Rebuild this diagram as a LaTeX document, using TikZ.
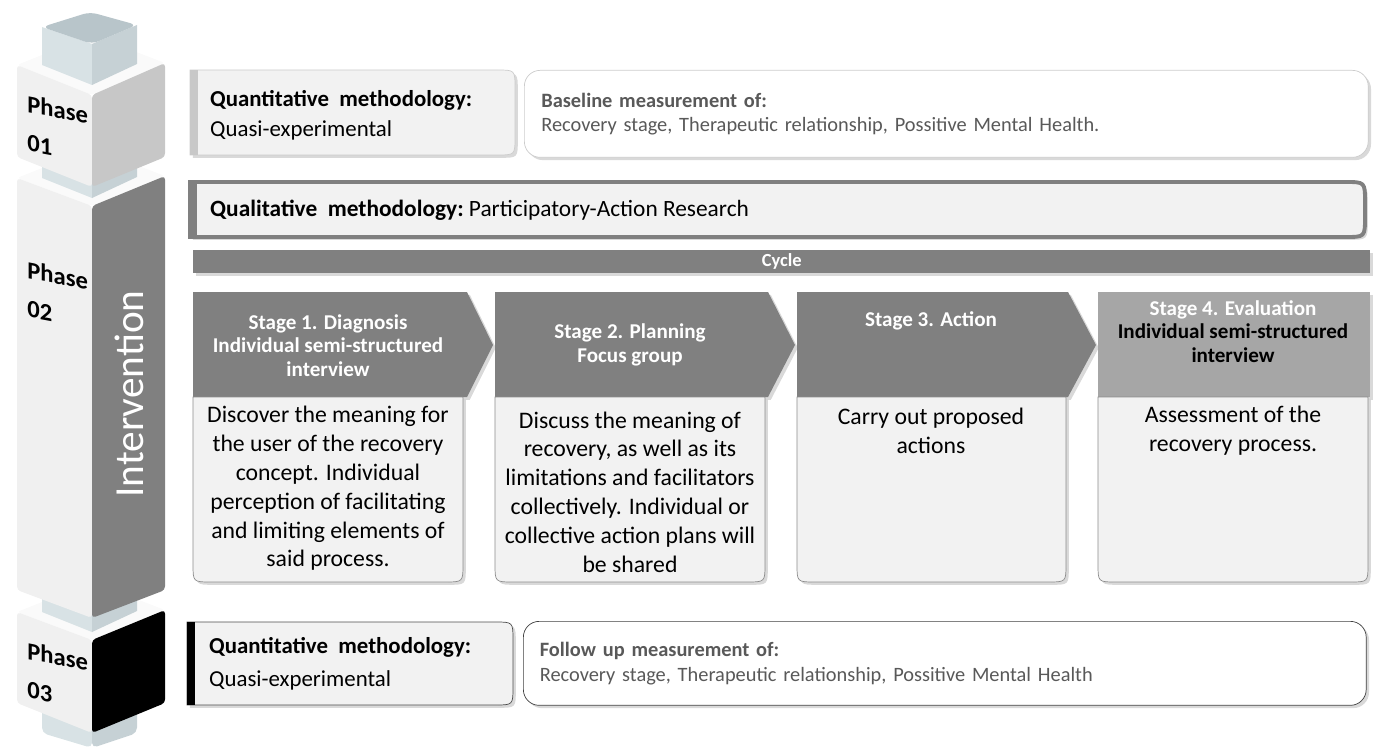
\documentclass[tikz,border=0pt]{standalone}
\usepackage{fontspec}
\setmainfont{Carlito}
\usepackage{tikz}
\usetikzlibrary{shadows,positioning,calc}
\definecolor{boxgray}{RGB}{242,242,242}
\definecolor{midgray}{RGB}{128,128,128}
\definecolor{barlight}{RGB}{200,200,200}
\definecolor{stagefour}{RGB}{166,166,166}
\definecolor{textgray}{RGB}{89,89,89}
\definecolor{shaftleft}{RGB}{216,226,229}
\definecolor{shaftright}{RGB}{198,209,213}
\definecolor{shafttop}{RGB}{184,197,202}
\definecolor{faceleft}{RGB}{240,240,240}
\definecolor{facetop}{RGB}{250,250,250}
\definecolor{faceone}{RGB}{199,199,199}

\begin{document}
\begin{tikzpicture}[x=0.02cm, y=-0.02cm, every node/.style={font=\fontsize{13}{16.4}\selectfont},
    shade box/.style={drop shadow={shadow xshift=1.6pt, shadow yshift=-1.6pt, opacity=.3}},
    stage head/.style={fill=midgray, shade box},
    stage body/.style={draw=black!45, fill=boxgray, shade box},
    head text/.style={text=white, align=center, font=\bfseries\fontsize{12}{13.4}\selectfont},
    body text/.style={align=center, font=\fontsize{13.5}{16.4}\selectfont},
    phase text/.style={anchor=west, inner sep=0pt, yslant=-0.19, align=left, font=\bfseries\fontsize{14}{22}\selectfont}]
    \useasboundingbox (0,0) rectangle (1373,750);

    % Column: top faces of the blocks
    \fill[facetop, rounded corners=2pt] (17,65) -- (92,35) -- (165,63) -- (92,95) -- cycle;
    \fill[facetop, rounded corners=2pt] (17,178) -- (92,148) -- (165,176) -- (92,206) -- cycle;
    \fill[facetop, rounded corners=2pt] (17,612) -- (92,582) -- (165,610) -- (92,640) -- cycle;

    % Column: shaft pieces
    \fill[shaftleft] (42,27) -- (92,44) -- (92,85) -- (42,65) -- cycle;
    \fill[shaftright] (92,44) -- (137,25) -- (137,64) -- (92,85) -- cycle;
    \fill[shafttop, rounded corners=4pt] (42,27) -- (90,12) -- (137,25) -- (92,44) -- cycle;
    \fill[shaftleft] (42,160) -- (92,160) -- (92,198) -- (42,178) -- cycle;
    \fill[shaftright] (92,160) -- (137,160) -- (137,177) -- (92,198) -- cycle;
    \fill[shaftleft] (42,595) -- (92,595) -- (92,632) -- (42,612) -- cycle;
    \fill[shaftright] (92,595) -- (137,595) -- (137,611) -- (92,632) -- cycle;
    \fill[shaftleft, rounded corners=3pt] (42,700) -- (92,700) -- (92,748) -- (42,733) -- cycle;
    \fill[shaftright, rounded corners=3pt] (92,700) -- (137,700) -- (137,733) -- (92,748) -- cycle;

    % Column: side faces
    \fill[faceleft, rounded corners=2pt] (17,65) -- (92,95) -- (92,187) -- (17,157) -- cycle;
    \fill[faceone, rounded corners=2pt] (92,95) -- (165,63) -- (165,157) -- (92,187) -- cycle;
    \fill[faceleft, rounded corners=2pt] (17,178) -- (92,206) -- (92,618) -- (17,590) -- cycle;
    \fill[midgray, rounded corners=2pt] (92,206) -- (165,176) -- (165,590) -- (92,618) -- cycle;
    \fill[faceleft, rounded corners=2pt] (17,612) -- (92,640) -- (92,733) -- (17,703) -- cycle;
    \fill[black, rounded corners=2pt] (92,640) -- (165,610) -- (165,703) -- (92,733) -- cycle;

    % Column labels
    \node[phase text] (ph1) at (27,123) {Phase\\01};
    \node[phase text] (ph2) at (27,289) {Phase\\02};
    \node[phase text] (ph3) at (27,670) {Phase\\03};
    \node[rotate=90, text=white, font=\fontsize{23.5}{28}\selectfont] (interv) at (129,394) {Intervention};

    % Phase 01 row
    \draw[draw=black!20, fill=boxgray, shade box] (190,70) -- (497,70) .. controls (515,70) .. (515,88) -- (515,137) .. controls (515,155) .. (497,155) -- (190,155) -- cycle;
    \fill[barlight] (190,70) rectangle (198,155);
    \node[anchor=west, align=left, font=\fontsize{13}{17}\selectfont] (quant1) at (204,115) {\textbf{Quantitative\ \ methodology:}\\Quasi-experimental};
    \node[draw=black!20, fill=white, rounded corners=9pt, shade box, anchor=north west, minimum width=16.88cm, minimum height=1.74cm, text width=16.2cm, inner xsep=0.32cm, align=left, text=textgray, font=\fontsize{11.6}{13.6}\selectfont] (base) at (524,70) {\textbf{Baseline measurement of:}\\Recovery stage, Therapeutic relationship, Possitive Mental Health.};

    % Phase 02 row
    \draw[draw=midgray, line width=2.2pt, fill=boxgray, shade box] (190,182) -- (1345,182) .. controls (1365,182) .. (1365,202) -- (1365,217) .. controls (1365,237) .. (1345,237) -- (190,237) -- cycle;
    \fill[midgray] (189,181) rectangle (197,238);
    \node[anchor=west, font=\fontsize{13.3}{16}\selectfont] (qual) at (204,210) {\textbf{Qualitative\ \ methodology:}\ Participatory-Action Research};
    \node[fill=midgray, shade box, anchor=north west, minimum width=23.54cm, minimum height=0.46cm, inner sep=0pt, text=white, font=\bfseries\fontsize{10.5}{12}\selectfont] (cycle) at (193,250) {Cycle};

    % Stage headers
    \fill[stage head] (193,292) -- (467,292) -- (493,345) -- (467,397) -- (193,397) -- cycle;
    \fill[stage head] (495,292) -- (768,292) -- (795,345) -- (768,397) -- (495,397) -- cycle;
    \fill[stage head] (797,292) -- (1068,292) -- (1096,345) -- (1068,397) -- (797,397) -- cycle;
    \fill[stage head, fill=stagefour] (1098,292) rectangle (1370,397);

    % Stage bodies
    \draw[stage body] (193,397) -- (463,397) -- (463,564) .. controls (463,582) .. (445,582) -- (211,582) .. controls (193,582) .. (193,564) -- cycle;
    \draw[stage body] (495,397) -- (765,397) -- (765,564) .. controls (765,582) .. (747,582) -- (513,582) .. controls (495,582) .. (495,564) -- cycle;
    \draw[stage body] (797,397) -- (1066,397) -- (1066,564) .. controls (1066,582) .. (1048,582) -- (815,582) .. controls (797,582) .. (797,564) -- cycle;
    \draw[stage body] (1098,397) -- (1368,397) -- (1368,564) .. controls (1368,582) .. (1350,582) -- (1116,582) .. controls (1098,582) .. (1098,564) -- cycle;

    % Stage texts
    \node[head text] (s1head) at (328,345.5) {Stage 1. Diagnosis\\Individual semi-structured\\interview};
    \node[head text] (s2head) at (630,345) {Stage 2. Planning\\Focus group};
    \node[head text] (s3head) at (931,321) {Stage 3. Action};
    \node[head text] (s4head) at (1233,331.5) {Stage 4. Evaluation\\\textcolor{black}{Individual semi-structured}\\\textcolor{black}{interview}};
    \node[body text] (s1body) at (328,488.5) {Discover the meaning for\\the user of the recovery\\concept. Individual\\perception of facilitating\\and limiting elements of\\said process.};
    \node[body text] (s2body) at (630,492) {Discuss the meaning of\\recovery, as well as its\\limitations and facilitators\\collectively. Individual or\\collective action plans will\\be shared};
    \node[body text] (s3body) at (931,431) {Carry out proposed\\actions};
    \node[body text] (s4body) at (1233,431) {Assessment of the\\recovery process.};

    % Phase 03 row
    \draw[draw=black!70, fill=boxgray, shade box] (187,622) -- (495,622) .. controls (513,622) .. (513,640) -- (513,687) .. controls (513,705) .. (495,705) -- (187,705) -- cycle;
    \fill[black] (187,622) rectangle (195,705);
    \node[anchor=west, align=left, font=\fontsize{13}{18.7}\selectfont] (quant3) at (203,663.5) {\textbf{Quantitative\ \ methodology:}\\Quasi-experimental};
    \node[draw=black!75, fill=white, rounded corners=9pt, shade box, anchor=north west, minimum width=16.86cm, minimum height=1.68cm, text width=16.2cm, inner xsep=0.32cm, align=left, text=textgray, font=\fontsize{11.6}{14.2}\selectfont] (follow) at (523,621) {\textbf{Follow up measurement of:}\\Recovery stage, Therapeutic relationship, Possitive Mental Health};
\end{tikzpicture}
\end{document}
